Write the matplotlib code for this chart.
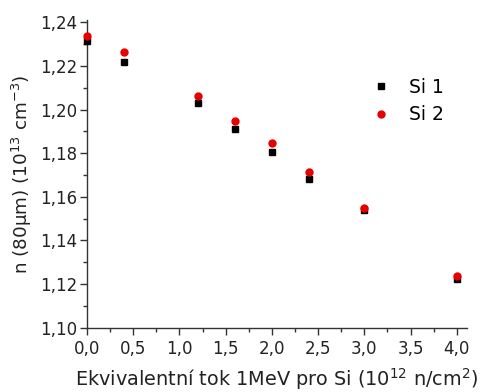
import matplotlib
matplotlib.use("Agg")
import matplotlib.pyplot as plt
from matplotlib.ticker import MultipleLocator, FuncFormatter

plt.rcParams["font.family"] = ["DejaVu Sans"]
plt.rcParams["mathtext.fontset"] = "dejavusans"

# Fluence (10^12 n/cm^2) and carrier concentration (10^13 cm^-3)
fluence = [0.0, 0.4, 1.2, 1.6, 2.0, 2.4, 3.0, 4.0]
si1 = [1.2314, 1.2219, 1.2031, 1.1913, 1.1805, 1.1681, 1.1539, 1.1222]
si2 = [1.2336, 1.2262, 1.2064, 1.1949, 1.1846, 1.1712, 1.1548, 1.1235]

fig = plt.figure(figsize=(4.82, 3.92), dpi=100)
ax = fig.add_axes([0.1805, 0.164, 0.7884, 0.7845])

ax.plot(fluence, si1, linestyle="none", marker="s", markersize=4.6,
        color="black", label="Si 1", clip_on=False, zorder=3)
ax.plot(fluence, si2, linestyle="none", marker="o", markersize=5.0,
        color="#e60000", label="Si 2", clip_on=False, zorder=4)

ax.set_xlim(0, 4.11)
ax.set_ylim(1.10, 1.241)

ax.xaxis.set_major_locator(MultipleLocator(0.5))
ax.xaxis.set_minor_locator(MultipleLocator(0.25))
ax.yaxis.set_major_locator(MultipleLocator(0.02))
ax.yaxis.set_minor_locator(MultipleLocator(0.01))

ax.xaxis.set_major_formatter(FuncFormatter(lambda v, p: f"{v:.1f}".replace(".", ",")))
ax.yaxis.set_major_formatter(FuncFormatter(lambda v, p: f"{v:.2f}".replace(".", ",")))

for s in ("top", "right"):
    ax.spines[s].set_visible(False)
for s in ("left", "bottom"):
    ax.spines[s].set_linewidth(1.0)
    ax.spines[s].set_color("#333333")

ax.tick_params(which="major", direction="out", length=5, width=1.0,
               color="#333333", labelsize=12, labelcolor="#222222")
ax.tick_params(axis="x", which="major", pad=4)
ax.tick_params(axis="y", which="major", pad=2)
ax.tick_params(which="minor", direction="out", length=3, width=1.0,
               color="#333333")

ax.set_xlabel("Ekvivalentní tok 1MeV pro Si (10$^{12}$ n/cm$^{2}$)",
              fontsize=13.9, labelpad=6, color="#222222")
ax.set_ylabel("n (80\u03bcm) (10$^{13}$ cm$^{-3}$)", fontsize=13.2,
              labelpad=4, color="#222222")

ax.legend(loc="upper left", bbox_to_anchor=(0.715, 0.855), frameon=False,
          fontsize=13.5, handlelength=1.0, handletextpad=1.0,
          labelspacing=0.45, borderpad=0.2)

fig.savefig("out.png", dpi=100)
